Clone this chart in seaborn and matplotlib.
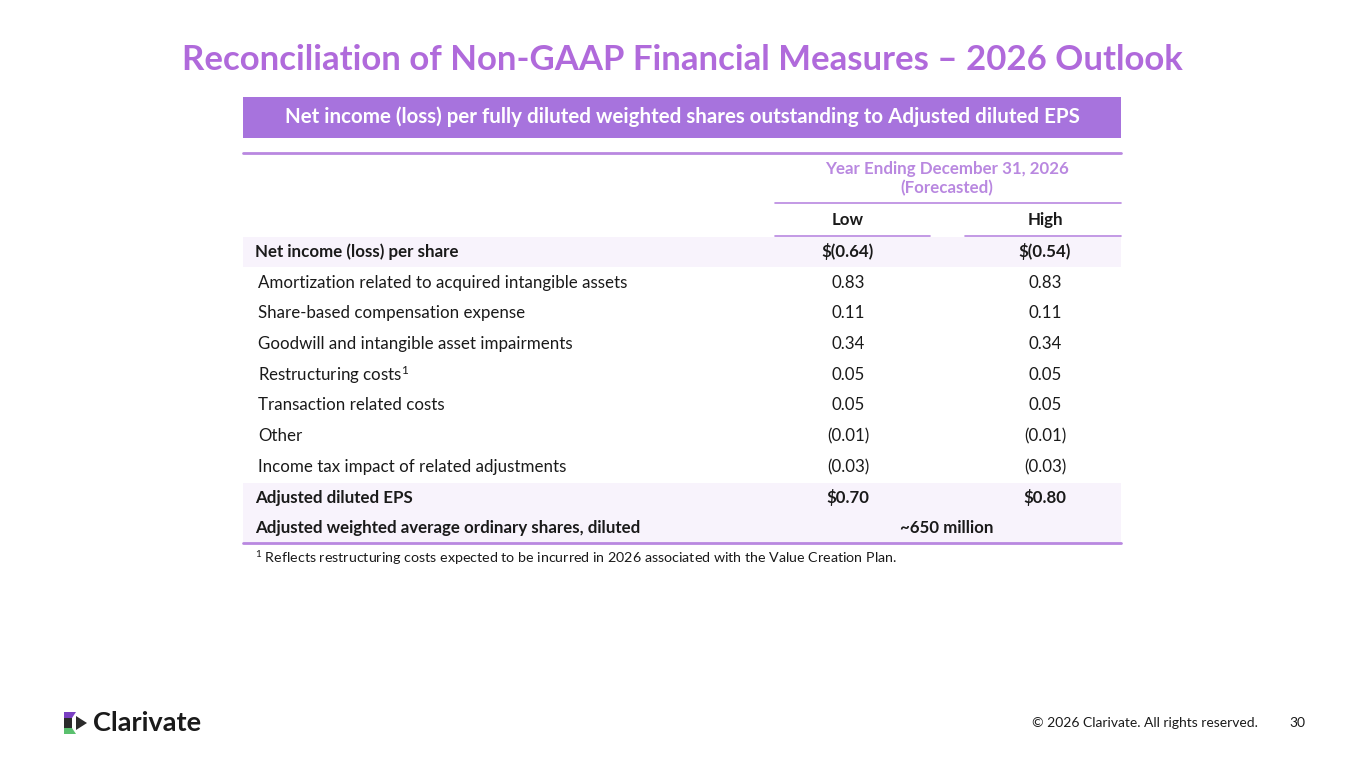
import matplotlib
matplotlib.use("Agg")
import matplotlib.pyplot as plt
import seaborn as sns
from matplotlib.patches import Rectangle, Polygon

sns.set_theme(style="white")
plt.rcParams["font.family"] = ["Lato", "DejaVu Sans"]
plt.rcParams["mathtext.default"] = "regular"

PURPLE = "#B06ADB"
BAR = "#A773DD"
LIGHT = "#B988E0"
SHADE = "#F8F3FC"
TEXT = "#1A1A1A"

title = "Reconciliation of Non-GAAP Financial Measures \u2013 2026 Outlook"
header = "Net income (loss) per fully diluted weighted shares outstanding to Adjusted diluted EPS"
period = ["Year Ending December 31, 2026", "(Forecasted)"]
columns = ["Low", "High"]

row_labels = [
    "Net income (loss) per share",
    "Amortization related to acquired intangible assets",
    "Share-based compensation expense",
    "Goodwill and intangible asset impairments",
    "Restructuring costs$^{1}$",
    "Transaction related costs",
    "Other",
    "Income tax impact of related adjustments",
    "Adjusted diluted EPS",
]
low_values = ["$(0.64)", "0.83", "0.11", "0.34", "0.05", "0.05", "(0.01)", "(0.03)", "$0.70"]
high_values = ["$(0.54)", "0.83", "0.11", "0.34", "0.05", "0.05", "(0.01)", "(0.03)", "$0.80"]
bold_rows = [0, 8]
shares_label = "Adjusted weighted average ordinary shares, diluted"
shares_value = "~650 million"
footnote = "$^{1}$ Reflects restructuring costs expected to be incurred in 2026 associated with the Value Creation Plan."

fig = plt.figure(figsize=(13.65, 7.68), dpi=100)
ax = fig.add_axes([0, 0, 1, 1])
ax.set_xlim(0, 1365)
ax.set_ylim(768, 0)
ax.axis("off")

L, R = 243, 1121
xlow, xhigh = 848, 1045
FS = 12.2

ax.text(682, 60, title, color=PURPLE, fontsize=25, fontweight="bold", ha="center", va="center")
ax.add_patch(Rectangle((L, 97), R - L, 41, color=BAR, lw=0))
ax.text(682, 117, header, color="white", fontsize=14.8, fontweight="bold", ha="center", va="center")
ax.plot([L, R], [153, 153], color=LIGHT, lw=2)
ax.text(947, 169, period[0], color=LIGHT, fontsize=FS, fontweight="bold", ha="center", va="center")
ax.text(947, 188, period[1], color=LIGHT, fontsize=FS, fontweight="bold", ha="center", va="center")
ax.plot([775, R], [203, 203], color=LIGHT, lw=1.2)
ax.text(xlow, 220, columns[0], color=TEXT, fontsize=FS, fontweight="bold", ha="center", va="center")
ax.text(xhigh, 220, columns[1], color=TEXT, fontsize=FS, fontweight="bold", ha="center", va="center")
ax.plot([775, 930], [236, 236], color=LIGHT, lw=1.2)
ax.plot([965, R], [236, 236], color=LIGHT, lw=1.2)

y0, step = 252, 30.7
for i, (lab, lo, hi) in enumerate(zip(row_labels, low_values, high_values)):
    y = y0 + i * step
    bold = i in bold_rows
    if bold:
        ax.add_patch(Rectangle((L, y - 15), R - L, 30, color=SHADE, lw=0))
    w = "bold" if bold else "normal"
    ax.text(L + (12 if bold else 15), y, lab, color=TEXT, fontsize=FS, fontweight=w, ha="left", va="center")
    ax.text(xlow, y, lo.replace("$", r"\$"), color=TEXT, fontsize=FS, fontweight=w, ha="center", va="center")
    ax.text(xhigh, y, hi.replace("$", r"\$"), color=TEXT, fontsize=FS, fontweight=w, ha="center", va="center")

ys = y0 + len(row_labels) * step
ax.add_patch(Rectangle((L, ys - 15), R - L, 30, color=SHADE, lw=0))
ax.text(L + 12, ys, shares_label, color=TEXT, fontsize=FS, fontweight="bold", ha="left", va="center")
ax.text(947, ys, shares_value, color=TEXT, fontsize=FS, fontweight="bold", ha="center", va="center")
ax.plot([L, R], [ys + 15, ys + 15], color=LIGHT, lw=2)
ax.text(L + 12, ys + 30, footnote, color=TEXT, fontsize=10.3, ha="left", va="center")

# logo
ax.add_patch(Polygon([(64, 712), (76, 712), (72, 718), (64, 718)], color="#7A3FC2", lw=0))
ax.add_patch(Polygon([(64, 718), (72, 718), (72, 728), (64, 728)], color="#2B2B2B", lw=0))
ax.add_patch(Polygon([(64, 728), (72, 728), (76, 734), (64, 734)], color="#5AC06E", lw=0))
ax.add_patch(Polygon([(76, 716), (87, 723), (76, 730)], color="#2B2B2B", lw=0))
ax.text(93, 723, "Clarivate", color="#1A1A1A", fontsize=19.5, fontweight="bold", ha="left", va="center")
ax.text(1258, 723, "\u00a9 2026 Clarivate. All rights reserved.", color=TEXT, fontsize=10, ha="right", va="center")
ax.text(1305, 723, "30", color=TEXT, fontsize=10, ha="right", va="center")

fig.savefig("out.png", dpi=100)
